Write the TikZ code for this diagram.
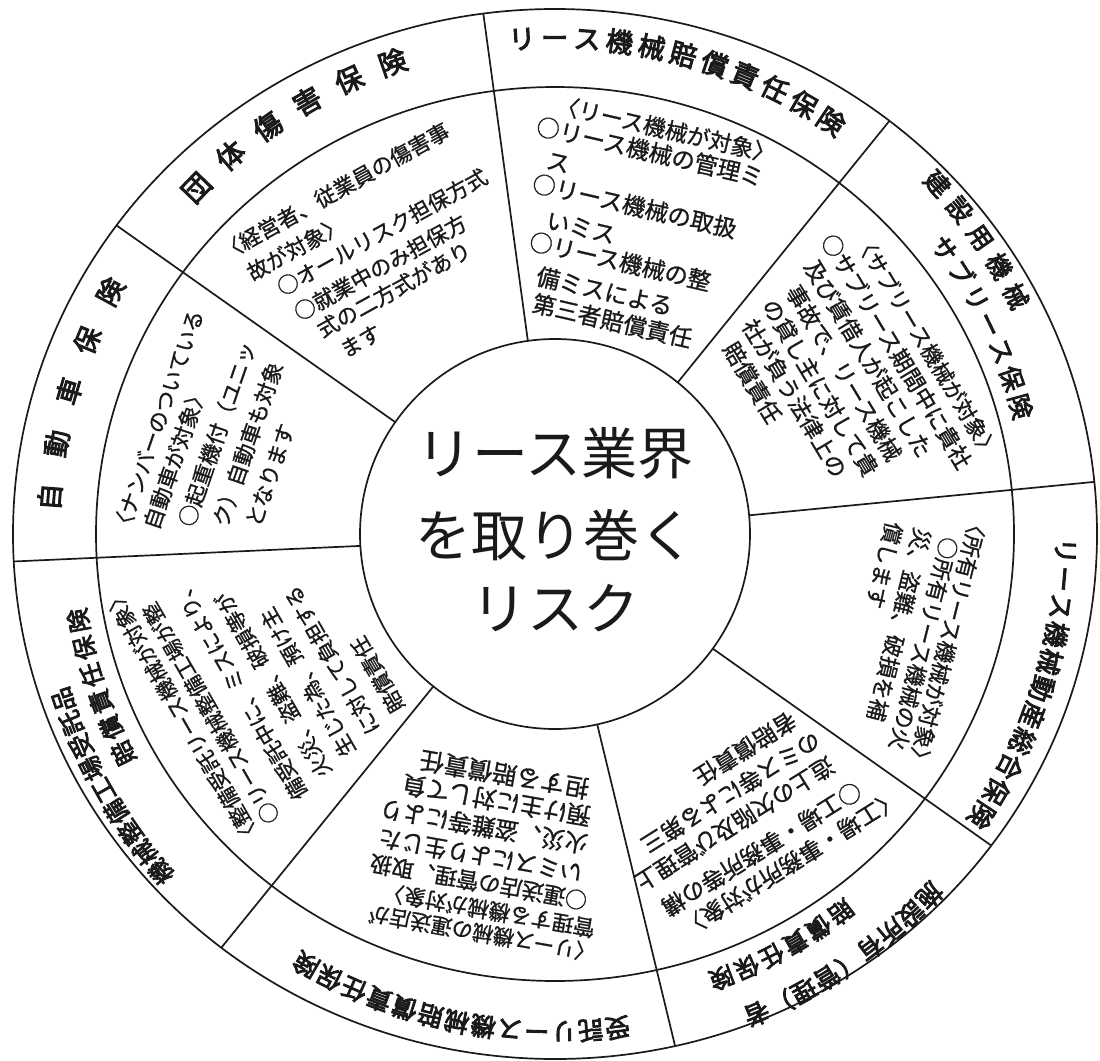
\documentclass[tikz,border=0pt]{standalone}
\usepackage{fontspec}
\setmainfont{Noto Sans CJK JP}
\newfontfamily\ttlfont{Noto Sans CJK JP}[FakeBold=3.5]
\newfontfamily\bodyfont{Noto Sans CJK JP}[FakeBold=1]
\usetikzlibrary{calc}
\definecolor{ink}{HTML}{1A1A1A}
% body line: name, x, y (image px), angle, size, text  (x,y = centre of first character)
\newcommand\bline[6]{\node[bodytxt, rotate=#4, font=\bodyfont\fontsize{#5}{#5}\selectfont] (#1) at ($(#2,-#3)+(#4+180:{#5*0.5})$) {#6};}
% same, for lines that begin with an opening bracket
\newcommand\blineb[6]{\node[bodytxt, rotate=#4, font=\bodyfont\fontsize{#5}{#5}\selectfont] (#1) at ($(#2,-#3)+(#4+180:{#5*0.65})$) {#6};}
% characters set one by one along an arc: prefix, radius, start angle, step, size, list
\newcommand\arcline[6]{%
  \foreach \tch [count=\i from 0] in {#6} {%
    \pgfmathsetmacro\ang{#3+\i*(#4)}%
    \node[titletxt, font=\ttlfont\fontsize{#5}{#5}\selectfont, rotate=\ang-90] (#1-\i) at ($(C)+(\ang:#2)$) {\tch};
  }}
\begin{document}
\begin{tikzpicture}[x=1pt,y=1pt,
  ring/.style={draw=ink, line width=1.7pt},
  bodytxt/.style={inner sep=0pt, anchor=west, text=ink, text height=.88em, text depth=.12em},
  titletxt/.style={inner sep=0pt, anchor=center, text=ink, text height=.88em, text depth=.12em},
  centertxt/.style={inner sep=0pt, anchor=center, text=ink, text height=.88em, text depth=.12em, font=\fontsize{56}{56}\selectfont}]
\useasboundingbox (0,0) rectangle (1100,-1060);
\fill[white] (0,0) rectangle (1100,-1060);
\coordinate (C) at (555,-534);

% rings
\draw[ring] (C) circle (195);
\draw[ring] (C) ellipse [x radius=459, y radius=447];
\draw[ring] (C) ellipse [x radius=542, y radius=525];
% sector boundaries
\foreach \a/\b in {98/97.6, 51/51.9, 5.5/5.7, -36/-36.4, -77.5/-77.2, -128.6/-128, 183.5/183, 145/144}
  \draw[ring] ($(C)+(\a:195)$) -- ($(C)+({542*cos(\b)},{525*sin(\b)})$);

% centre
\node[centertxt] (ctr1) at (555,-471) {リース業界};
\node[centertxt] (ctr2) at (555,-553) {を取り巻く};
\node[centertxt] (ctr3) at (555,-626) {リスク};

% titles
\arcline{t1}{492}{136}{-5.4}{28}{団,体,傷,害,保,険}
\arcline{t2}{490}{93.8}{-3.76}{27}{リ,ー,ス,機,械,賠,償,責,任,保,険}
\arcline{t3}{513}{42.5}{-3.8}{25}{建,設,用,機,械}
\arcline{t4}{477}{36.2}{-3.48}{25}{サ,ブ,リ,ー,ス,保,険}
\arcline{t5}{505}{-1.9}{-3.15}{26}{リ,ー,ス,機,械,動,産,総,合,保,険}
\arcline{t6}{515}{-44}{-2.9}{25}{施,設,所,有,（,管,理,）,者}
\arcline{t7}{469}{-52.9}{-3.3}{24}{賠,償,責,任,保,険}
\arcline{t8}{492}{-82.8}{-3.1}{25}{受,託,リ,ー,ス,機,械,賠,償,責,任,保,険}
\arcline{t9}{514}{220.6}{-2.75}{24}{機,械,整,備,工,場,受,託,品}
\arcline{t10}{479}{206.9}{-3.32}{24}{賠,償,責,任,保,険}
\arcline{t11}{500}{175.8}{-6.1}{27}{自,動,車,保,険}

% 団体傷害保険
\blineb{a1}{236}{251}{29}{21.5}{〈経営者、従業員の傷害事}
\bline{a2}{260}{273}{29}{21.5}{故が対象〉}
\bline{a3}{290}{288}{29}{21.5}{○オールリスク担保方式}
\bline{a4}{307}{313}{29}{21.5}{○就業中のみ担保方}
\bline{a5}{330}{330}{29}{21.5}{式の二方式があり}
\bline{a6}{353}{350}{29}{21.5}{ます}

% リース機械賠償責任保険
\blineb{b1}{570}{112}{-13}{22.5}{〈リース機械が対象〉}
\bline{b2}{547}{133}{-13}{23.3}{○リース機械の管理ミ}
\bline{b3}{557}{167}{-13}{23.3}{ス}
\bline{b4}{543}{190}{-13}{23.3}{○リース機械の取扱}
\bline{b5}{557}{227}{-13}{23.3}{いミス}
\bline{b6}{540}{248}{-13}{23.3}{○リース機械の整}
\bline{b7}{547}{283}{-13}{23.3}{備ミスによる}
\bline{b8}{543}{310}{-13}{23.3}{第三者賠償責任}

% 建設用機械サブリース保険
\blineb{c1}{864}{250}{-59}{21.5}{〈サブリース機械が対象〉}
\bline{c2}{829}{248}{-59}{22.5}{○サブリース期間中に貴社}
\bline{c3}{812}{274}{-59}{22.5}{及び賃借人が起こした}
\bline{c4}{794}{299}{-59}{22.5}{事故で、リース機械}
\bline{c5}{770}{313}{-59}{22.5}{の貸し主に対して貴}
\bline{c6}{750}{333}{-59}{22.5}{社が負う法律上の}
\bline{c7}{731}{356}{-59}{22.5}{賠償責任}

% リース機械動産総合保険
\blineb{d1}{972}{527}{-104}{22}{〈所有リース機械が対象〉}
\bline{d2}{943}{547}{-104}{22}{○所有リース機械の火}
\bline{d3}{916}{538}{-104}{22}{災、盗難、破損を補}
\bline{d4}{888}{532}{-104}{22}{償します}

% 施設所有（管理）者賠償責任保険
\blineb{e1}{883}{800}{-148}{23}{〈工場・事務所が対象〉}
\bline{e2}{847}{790}{-148}{23}{○工場・事務所等の構}
\bline{e3}{820}{765}{-148}{23}{造上の欠陥及び管理上}
\bline{e4}{806}{740}{-148}{23}{のミス等による第三}
\bline{e5}{782}{720}{-148}{23}{者賠償責任}

% 受託リース機械賠償責任保険
\blineb{f1}{583}{947}{170}{21}{〈リース機械の運送店が}
\bline{f2}{585}{923}{170}{21.5}{管理する機械が対象〉}
\bline{f3}{577}{895}{170}{22}{○運送店の管理、取扱}
\bline{f4}{572}{867}{170}{23}{いミスにより生じた}
\bline{f5}{577}{838}{170}{23.5}{火災、盗難等により}
\bline{f6}{580}{810}{170}{24}{預け主に対して負}
\bline{f7}{578}{782}{170}{24.5}{担する賠償責任}

% 機械整備工場受託品賠償責任保険
\blineb{g1}{252}{830}{120}{21}{〈整備受託リース機械が対象〉}
\bline{g2}{272}{811}{120}{21}{○リース機械整備工場が整}
\bline{g3}{300}{787}{120}{21}{備受託中に、ミスにより、}
\bline{g4}{324}{765}{120}{21}{火災、盗難、破損等が}
\bline{g5}{348}{744}{120}{21}{生じた為、預け主}
\bline{g6}{372}{722}{120}{21}{に対して負担する}
\bline{g7}{397}{700}{120}{21}{賠償責任}

% 自動車保険
\blineb{h1}{128}{522}{71}{21.5}{〈ナンバーのついている}
\bline{h2}{158}{520}{71}{21.5}{自動車が対象〉}
\bline{h3}{193}{517}{71}{21.5}{○起重機付（ユニッ}
\bline{h4}{227}{517}{71}{21.5}{ク）自動車も対象}
\bline{h5}{260}{517}{71}{21.5}{となります}
\end{tikzpicture}
\end{document}
